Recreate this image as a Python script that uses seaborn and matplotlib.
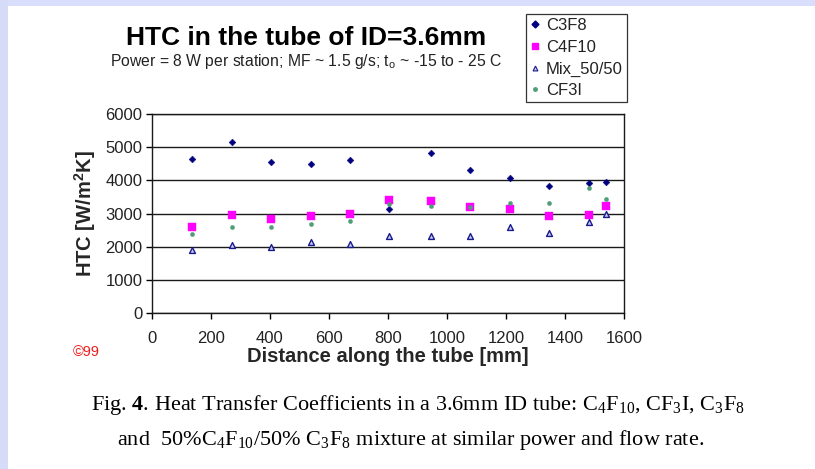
import matplotlib
matplotlib.use("Agg")
import matplotlib.pyplot as plt
import matplotlib.patches as mpatches
from matplotlib.lines import Line2D
import seaborn as sns
import pandas as pd

# ---- data ----
distance = [135, 270, 405, 540, 672, 805, 945, 1077, 1212, 1347, 1482, 1538]
c3f8 = [4640, 5150, 4560, 4490, 4610, 3150, 4810, 4300, 4060, 3830, 3910, 3960]
c4f10 = [2600, 2955, 2840, 2935, 2995, 3415, 3375, 3185, 3145, 2915, 2965, 3235]
mix = [1900, 2060, 1990, 2150, 2090, 2320, 2320, 2320, 2590, 2420, 2745, 2995]
cf3i = [2390, 2585, 2585, 2675, 2785, 3295, 3215, 3190, 3305, 3305, 3760, 3450]
series_names = ["C3F8", "C4F10", "Mix_50/50", "CF3I"]
x_ticks = [0, 200, 400, 600, 800, 1000, 1200, 1400, 1600]
y_ticks = [0, 1000, 2000, 3000, 4000, 5000, 6000]

rows = []
for name, vals in zip(series_names, [c3f8, c4f10, mix, cf3i]):
    for d, v in zip(distance, vals):
        rows.append({"Distance": d, "HTC": v, "Fluid": name})
df = pd.DataFrame(rows)

sns.set_theme(style="white")
plt.rcParams["font.family"] = ["Liberation Sans", "DejaVu Sans"]
plt.rcParams["mathtext.fontset"] = "custom"
plt.rcParams["mathtext.rm"] = "Liberation Serif"
plt.rcParams["mathtext.bf"] = "Liberation Serif:bold"

W, H = 815, 469
fig = plt.figure(figsize=(W / 100, H / 100), dpi=100)
fig.patch.set_facecolor("white")

# light blue slide border (top and left)
fig.patches.append(mpatches.Rectangle((0, 1 - 6 / H), 1, 6 / H, transform=fig.transFigure,
                                      facecolor="#d9defc", edgecolor="none", zorder=0))
fig.patches.append(mpatches.Rectangle((0, 0), 8 / W, 1, transform=fig.transFigure,
                                      facecolor="#d6dcf8", edgecolor="none", zorder=0))

ax = fig.add_axes([152 / W, 1 - 313 / H, (624 - 152) / W, (313 - 114) / H])

palette = {"C3F8": "#000080", "C4F10": "#ff00ff", "Mix_50/50": "#1a1a8c", "CF3I": "#4f9e78"}
markers = {"C3F8": "D", "C4F10": "s", "Mix_50/50": "^", "CF3I": "o"}
sizes = {"C3F8": 12, "C4F10": 30, "Mix_50/50": 18, "CF3I": 9}

for name in series_names:
    sub = df[df["Fluid"] == name]
    kw = dict(data=sub, x="Distance", y="HTC", ax=ax, marker=markers[name],
              s=sizes[name], legend=False, zorder=3)
    if name == "Mix_50/50":
        sns.scatterplot(**kw, facecolor="#c8ccf0", edgecolor=palette[name], linewidth=1.0)
    else:
        sns.scatterplot(**kw, color=palette[name], edgecolor=palette[name], linewidth=0.3)

ax.set_xlim(0, 1600)
ax.set_ylim(0, 6000)
ax.set_xticks(x_ticks)
ax.set_yticks(y_ticks)
ax.set_xticklabels([str(t) for t in x_ticks], fontsize=12, color="#222222")
ax.set_yticklabels([str(t) for t in y_ticks], fontsize=12, color="#222222")
ax.tick_params(axis="both", which="both", direction="out", length=4, width=1,
               color="black", bottom=True, left=True, pad=3)
ax.tick_params(axis="x", pad=9)
ax.grid(axis="y", color="#1a1a1a", linewidth=1.0)
ax.grid(axis="x", visible=False)
for sp in ax.spines.values():
    sp.set_visible(True)
    sp.set_color("#1a1a1a")
    sp.set_linewidth(1.0)
ax.set_facecolor("white")

ax.set_xlabel("Distance along the tube [mm]", fontsize=14.5, fontweight="bold", labelpad=1)
ax.set_ylabel("HTC [W/m$^\\mathregular{2}$K]", fontsize=14.5, fontweight="bold", labelpad=5)

# titles
fig.text(306 / W, 1 - 38 / H, "HTC in the tube of ID=3.6mm", ha="center", va="center",
         fontsize=19, fontweight="bold", color="black")
fig.text(306 / W, 1 - 61 / H,
         "Power = 8 W per station; MF ~ 1.5 g/s; t$_\\mathregular{o}$ ~ -15 to - 25 C",
         ha="center", va="center", fontsize=11.3, color="#222222")

# legend
handles = []
for name in series_names:
    if name == "Mix_50/50":
        h = Line2D([], [], linestyle="none", marker="^", markersize=3.5,
                   markerfacecolor="#c8ccf0", markeredgecolor=palette[name], markeredgewidth=0.8)
    else:
        ms = {"C3F8": 3.5, "C4F10": 4.5, "CF3I": 2.5}[name]
        h = Line2D([], [], linestyle="none", marker=markers[name], markersize=ms,
                   color=palette[name])
    handles.append(h)
leg = fig.legend(handles, series_names, loc="upper left",
                 bbox_to_anchor=(526 / W, 1 - 14 / H), fontsize=12,
                 frameon=True, fancybox=False, borderpad=0.25, labelspacing=0.4,
                 handlelength=0.6, handletextpad=0.35, borderaxespad=0)
leg.get_frame().set_edgecolor("black")
leg.get_frame().set_linewidth(0.9)
for t in leg.get_texts():
    t.set_color("#222222")

# red mark
fig.text(86 / W, 1 - 352 / H, "\u00a999", ha="center", va="center", fontsize=10.5,
         color="#ee1c1c")

# caption
serif = ["Liberation Serif", "DejaVu Serif"]
fig.text(418 / W, 1 - 405 / H,
         "Fig. $\\mathbf{4}$. Heat Transfer Coefficients in a 3.6mm ID tube: "
         "C$_\\mathregular{4}$F$_\\mathregular{10}$, CF$_\\mathregular{3}$I, "
         "C$_\\mathregular{3}$F$_\\mathregular{8}$",
         ha="center", va="center", fontsize=16, family=serif, color="black")
fig.text(411 / W, 1 - 440 / H,
         "and  50%C$_\\mathregular{4}$F$_\\mathregular{10}$/50% C$_\\mathregular{3}$F$_\\mathregular{8}$ "
         "mixture at similar power and flow rate.",
         ha="center", va="center", fontsize=16, family=serif, color="black")

fig.savefig("out.png", dpi=100, facecolor="white")
